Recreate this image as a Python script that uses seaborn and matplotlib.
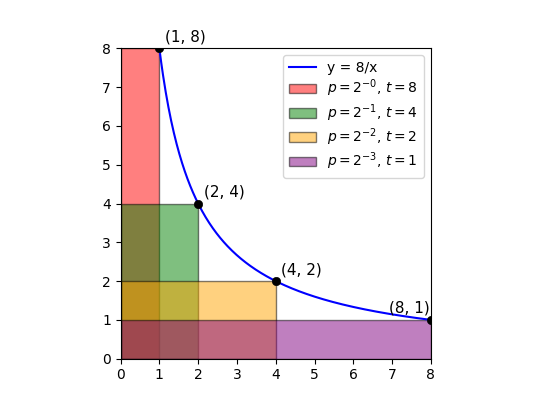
import numpy as np
import pandas as pd
import matplotlib
matplotlib.use("Agg")
import matplotlib.pyplot as plt
import seaborn as sns

# rectangles p = 2^-k, t = 8 * p
widths = [1, 2, 4, 8]
heights = [8, 4, 2, 1]
colors = ["red", "green", "orange", "purple"]
labels = [r"$p = 2^{-0}$, $t = 8$", r"$p = 2^{-1}$, $t = 4$",
          r"$p = 2^{-2}$, $t = 2$", r"$p = 2^{-3}$, $t = 1$"]

# marked points on the curve
pt_x = [1, 2, 4, 8]
pt_y = [8, 4, 2, 1]
pt_offsets = [(4, 5), (4, 5), (4, 5), (-30, 5)]

# curve y = 8/x
curve_x = np.linspace(1, 8, 300)
curve = pd.DataFrame({"x": curve_x, "y": 8 / curve_x})

fig, ax = plt.subplots(figsize=(5.38, 4.03), dpi=100)

sns.lineplot(data=curve, x="x", y="y", color="blue", linewidth=1.5,
             label="y = 8/x", ax=ax)

for w, h, c, lab in zip(widths, heights, colors, labels):
    ax.bar(0, h, width=w, align="edge", color=c, alpha=0.5,
           edgecolor="black", linewidth=1, label=lab)

sns.scatterplot(x=pt_x, y=pt_y, color="black", s=36, zorder=5, ax=ax,
                edgecolor="black", legend=False)
for x, y, off in zip(pt_x, pt_y, pt_offsets):
    ax.annotate(f"({x}, {y})", (x, y), xytext=off, textcoords="offset points",
                fontsize=11)

ax.set_xlim(0, 8)
ax.set_ylim(0, 8)
ax.set_xticks(range(0, 9))
ax.set_yticks(range(0, 9))
ax.set_aspect("equal")
ax.set_xlabel("")
ax.set_ylabel("")
ax.legend(loc="upper right", labelspacing=0.2)

plt.savefig("out.png", dpi=100)
plt.close()
